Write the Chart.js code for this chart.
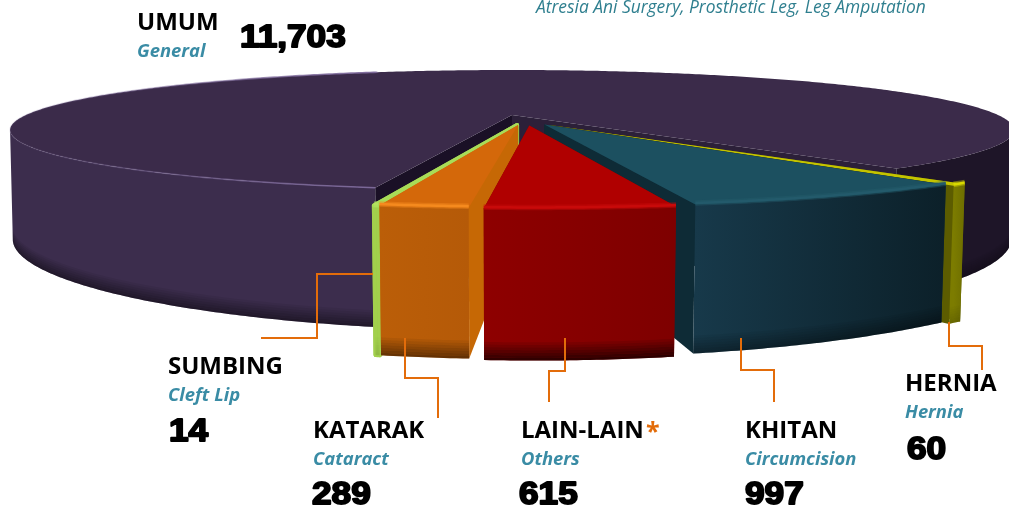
<!DOCTYPE html>
<html><head><meta charset="utf-8">
<style>html,body{margin:0;padding:0;background:#fff}#w{position:relative;width:1009px;height:507px;overflow:hidden}canvas{display:block}</style>
<script src="https://cdn.jsdelivr.net/npm/chart.js@4"></script>
</head><body><div id="w"><canvas id="c" width="1009" height="507"></canvas></div>
<script>
// ---- data ----
const categories = ['HERNIA','KHITAN','LAIN-LAIN','KATARAK','SUMBING','UMUM'];
const englishLabels = ['Hernia','Circumcision','Others','Cataract','Cleft Lip','General'];
const values = [60,997,615,289,14,11703];
const footnote = 'Atresia Ani Surgery, Prosthetic Leg, Leg Amputation';

// ---- layout / style ----
const explode = [[.074,.17],[.064,.16],[.034,.178],[.012,.17],[.01,.17],[0,0]];
const drawOrder = [5,0,1,4,3,2];
const TOP = {cx:512,cy:115,H:56.25,p:.25,px:.25,R:486};
const BOT = {cx:512,cy:218,H:81.1,p:.28,px:.245,R:484};
const skin = [
 {top:'#c4c400',wall:['#7c7c00','#6e6e00'],side:'#5c5c00',hi:'#d8d800',shade:.15,edge:0},
 {top:'#1c5060',wall:['#17394a','#0c2029'],side:'#0e2b36',hi:'#235a6b',shade:.35,edge:0},
 {top:'#b00000',wall:['#8e0000','#7e0000'],side:'#7e0000',hi:'#c80a0a',shade:.65,edge:0},
 {top:'#d4680a',wall:['#bb5e08','#b55a08'],side:'#c66805',hi:'#f58a1e',shade:.45,edge:0},
 {top:'#a8dc58',wall:['#a2d04c','#98c648'],side:'#98c648',hi:'#b4e060',shade:.1,edge:4},
 {top:'#3b2b4a',wall:['#3c2d4d','#1e1528'],side:'#1a1026',hi:null,shade:.45,edge:0}
];
const leaders = [
 [[373,274],[317,274],[317,338],[261,338]],
 [[405,338],[405,378],[438,378],[438,418]],
 [[565,338],[565,371],[549,371],[549,402]],
 [[741,338],[741,370],[774,370],[774,402]],
 [[949,322],[949,346],[982,346],[982,370]]
];
const labelPos = [
 {x:905,n:391,e:418,vx:907,v:459},
 {x:745,n:438,e:465,vx:745,v:504},
 {x:521,n:438,e:465,vx:519,v:504},
 {x:313,n:438,e:465,vx:312,v:504},
 {x:168,n:374,e:401,vx:169,v:441},
 {x:137,n:30,e:57,vx:240,v:47}
];
const TEAL='#3a8ca5', ORANGE='#e36c0a';

function proj(P,u,v){return [P.cx+P.R*u/(1-P.px*v),P.cy+P.H*v/(1-P.p*v)];}
function poly(ctx,pts){ctx.beginPath();pts.forEach((p,i)=>i?ctx.lineTo(p[0],p[1]):ctx.moveTo(p[0],p[1]));ctx.closePath();}
function line(ctx,pts){ctx.beginPath();pts.forEach((p,i)=>i?ctx.lineTo(p[0],p[1]):ctx.moveTo(p[0],p[1]));}
function rim(P,a0,a1,ou,ov){
 const n=Math.max(2,Math.ceil((a1-a0)/0.01)),out=[];
 for(let k=0;k<=n;k++){const t=a0+(a1-a0)*k/n;out.push(proj(P,Math.cos(t)+ou,Math.sin(t)+ov));}
 return out;
}
function wallRun(ctx,a0,a1,ou,ov,fill,shade,stroke,strokeColor){
 const T=rim(TOP,a0,a1,ou,ov),B=rim(BOT,a0,a1,ou,ov);
 poly(ctx,T.concat(B.slice().reverse()));ctx.fillStyle=fill;ctx.fill();stroke&&stroke(strokeColor);
 const lerp=(t)=>T.map((p,k)=>[p[0]+(B[k][0]-p[0])*t,p[1]+(B[k][1]-p[1])*t]);
 const steps=7,from=.88;
 for(let s=0;s<steps;s++){
  const t0=from+(1-from)*s/steps,t1=from+(1-from)*(s+1)/steps;
  poly(ctx,lerp(t0).concat(lerp(t1).reverse()));
  ctx.fillStyle='rgba(0,0,0,'+(shade*(s+1)/steps)+')';ctx.fill();
 }
}
function drawSlice(ctx,arc,i){
 const a=arc.getProps(['startAngle','endAngle']);
 const [ou,ov]=explode[i],st=skin[i];
 const T=rim(TOP,a.startAngle,a.endAngle,ou,ov),B=rim(BOT,a.startAngle,a.endAngle,ou,ov),n=T.length-1;
 const aT=proj(TOP,ou,ov),aB=proj(BOT,ou,ov);
 const stroke=(c)=>{if(st.edge){ctx.strokeStyle=c;ctx.lineWidth=st.edge;ctx.lineJoin='round';ctx.stroke();}};
 poly(ctx,[aT,T[0],B[0],aB]);ctx.fillStyle=st.side;ctx.fill();stroke(st.side);
 poly(ctx,[aT,T[n],B[n],aB]);ctx.fillStyle=i===5?'#2c2039':st.side;ctx.fill();stroke(st.side);
 if(i===5){
  const sil=Math.asin(.26),mod=2*Math.PI;
  const s=a.startAngle,e=a.endAngle,leftEnd=Math.PI-sil;
  const k=Math.ceil((s-leftEnd)/mod);
  wallRun(ctx,s,leftEnd+k*mod,0,0,st.wall[0],st.shade);
  const rightStart=sil+mod*Math.ceil((s-sil)/mod);
  wallRun(ctx,rightStart,e,0,0,st.wall[1],st.shade*.6);
 }else{
  const xs=T.map(p=>p[0]);
  const g=ctx.createLinearGradient(Math.min(...xs),0,Math.max(...xs),0);
  g.addColorStop(0,st.wall[0]);g.addColorStop(1,st.wall[1]);
  wallRun(ctx,a.startAngle,a.endAngle,ou,ov,g,st.shade,stroke,st.wall[0]);
 }
 poly(ctx,[aT].concat(T));ctx.fillStyle=st.top;ctx.fill();stroke(st.top);
 if(st.hi){
  const up=T.map(p=>[p[0],p[1]-1.5]);
  line(ctx,up);ctx.strokeStyle=st.hi;ctx.globalAlpha=.45;ctx.lineWidth=5.5;ctx.stroke();
  ctx.globalAlpha=1;ctx.lineWidth=2.5;ctx.stroke();
 }else{
  const h=ctx.createLinearGradient(10,0,378,0);
  h.addColorStop(0,'rgba(125,105,155,.12)');h.addColorStop(.995,'rgba(125,105,155,.95)');h.addColorStop(1,'rgba(125,105,155,0)');
  line(ctx,T);ctx.strokeStyle=h;ctx.lineWidth=1.6;ctx.stroke();
 }
}
function put(ctx,txt,x,y,font,color){
 ctx.font=font;ctx.fillStyle=color;ctx.textAlign='left';ctx.textBaseline='alphabetic';
 ctx.fillText(txt,x,y);
}
function putHeavy(ctx,txt,x,y,font,color){
 ctx.save();ctx.translate(x,y);ctx.scale(1.1,1);
 ctx.font=font;ctx.fillStyle=color;ctx.strokeStyle=color;ctx.lineWidth=1.9;ctx.lineJoin='round';
 ctx.textAlign='left';ctx.textBaseline='alphabetic';
 ctx.strokeText(txt,0,0);ctx.fillText(txt,0,0);ctx.restore();
}
const pie3d={id:'pie3d',
 beforeDatasetsDraw(chart){
  const ctx=chart.ctx,arcs=chart.getDatasetMeta(0).data;
  ctx.save();drawOrder.forEach(i=>drawSlice(ctx,arcs[i],i));
  ctx.strokeStyle=ORANGE;ctx.lineWidth=2;ctx.lineJoin='miter';
  leaders.forEach(l=>{line(ctx,l);ctx.stroke();});
  ctx.restore();
  return false;
 },
 afterDraw(chart){
  const ctx=chart.ctx;ctx.save();
  categories.forEach((c,i)=>{const L=labelPos[i];
   put(ctx,c,L.x,L.n,'700 24px "Open Sans"','#000');
   put(ctx,englishLabels[i],L.x,L.e,'italic 700 18.4px "Open Sans"',TEAL);
   putHeavy(ctx,values[i].toLocaleString('en-US'),L.vx,L.v,'900 32px "Liberation Sans"','#000');
  });
  put(ctx,'*',646,440,'bold 25px "Open Sans"',ORANGE);
  put(ctx,footnote,536,13,'italic 17.4px "Open Sans"','#2f7f8f');
  ctx.restore();
 }
};
new Chart(document.getElementById('c'),{
 type:'pie',
 data:{labels:categories,datasets:[{data:values,backgroundColor:skin.map(s=>s.top),borderWidth:0}]},
 options:{responsive:false,animation:false,rotation:140.3,
  layout:{padding:0},plugins:{legend:{display:false},tooltip:{enabled:false}}},
 plugins:[pie3d]
});
</script></body></html>
